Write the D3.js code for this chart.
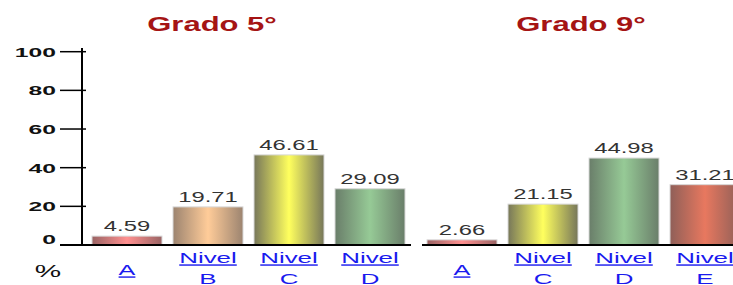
<!DOCTYPE html>
<html>
<head>
<meta charset="utf-8">
<script src="https://cdn.jsdelivr.net/npm/d3@7"></script>
<style>
  body { margin: 0; background: #fff; overflow: hidden; }
  svg { display: block; font-family: Arial, "Liberation Sans", sans-serif; }
</style>
</head>
<body>
<svg id="chart" width="733" height="285"></svg>
<script>
// data
const grado5Levels = ["A", "B", "C", "D"];
const grado5Values = [4.59, 19.71, 46.61, 29.09];
const grado9Levels = ["A", "C", "D", "E"];
const grado9Values = [2.66, 21.15, 44.98, 31.21];
const yTicks = [0, 20, 40, 60, 80, 100];
const titles = ["Grado 5°", "Grado 9°"];

// bar colours per level: [edge, centre]
const levelColors = {
  A: ["#9a6464", "#ff9090"],
  B: ["#9c8470", "#ffcc99"],
  C: ["#77775a", "#ffff5e"],
  D: ["#6a7e6a", "#96ca96"],
  E: ["#8f5f58", "#e8785f"]
};

const svg = d3.select("#chart");
const defs = svg.append("defs");

Object.keys(levelColors).forEach(k => {
  const g = defs.append("linearGradient")
    .attr("id", "grad-" + k)
    .attr("x1", "0%").attr("x2", "100%").attr("y1", "0%").attr("y2", "0%");
  g.append("stop").attr("offset", "0%").attr("stop-color", levelColors[k][0]);
  g.append("stop").attr("offset", "50%").attr("stop-color", levelColors[k][1]);
  g.append("stop").attr("offset", "100%").attr("stop-color", levelColors[k][0]);
});

const y = d3.scaleLinear().domain([0, 100]).range([245, 51.7]);

// stretched text like the original raster
function stretchedText(parent, x, yPos, txt, size, sx, opts) {
  opts = opts || {};
  return parent.append("text")
    .attr("transform", `translate(${x},${yPos}) scale(${sx},1)`)
    .attr("text-anchor", opts.anchor || "middle")
    .attr("font-size", size)
    .attr("font-weight", opts.weight || "normal")
    .attr("fill", opts.fill || "#000")
    .attr("text-decoration", opts.deco || null)
    .text(txt);
}

function drawPanel(levels, values, rangeStart, lineStart, lineEnd, title, titleX) {
  const g = svg.append("g");
  const x = d3.scaleBand()
    .domain(levels)
    .range([rangeStart, rangeStart + levels.length * 81])
    .paddingInner(0.136)
    .paddingOuter(0.068);

  stretchedText(g, titleX, 31, title, 20, 1.55, { weight: "bold", fill: "#a51414" });

  g.selectAll("rect.bar")
    .data(levels)
    .enter()
    .append("rect")
    .attr("class", "bar")
    .attr("x", d => x(d))
    .attr("width", x.bandwidth())
    .attr("y", (d, i) => y(values[i]))
    .attr("height", (d, i) => y(0) - y(values[i]))
    .attr("fill", d => `url(#grad-${d})`)
    .attr("stroke", "#d8d8d8")
    .attr("stroke-width", 1);

  levels.forEach((d, i) => {
    const cx = x(d) + x.bandwidth() / 2;
    stretchedText(g, cx, y(values[i]) - 5, values[i].toFixed(2), 14, 1.7, { fill: "#333" });
    if (d === "A") {
      stretchedText(g, cx, 275, "A", 14, 1.8, { fill: "#1a1aee", deco: "underline" });
    } else {
      stretchedText(g, cx, 263, "Nivel", 14, 1.85, { fill: "#1a1aee", deco: "underline" });
      stretchedText(g, cx, 284, d, 14, 1.85, { fill: "#1a1aee", deco: "underline" });
    }
  });

  g.append("line")
    .attr("x1", lineStart).attr("x2", lineEnd)
    .attr("y1", y(0)).attr("y2", y(0))
    .attr("stroke", "#000").attr("stroke-width", 2);
  return g;
}

// left panel with y axis
const left = drawPanel(grado5Levels, grado5Values, 86.5, 60, 411, titles[0], 212);
const right = drawPanel(grado9Levels, grado9Values, 421.5, 422, 733, titles[1], 581);

const axisG = svg.append("g");
axisG.append("line")
  .attr("x1", 82).attr("x2", 82)
  .attr("y1", 48).attr("y2", y(0))
  .attr("stroke", "#000").attr("stroke-width", 2);

yTicks.forEach(t => {
  if (t > 0) {
    axisG.append("line")
      .attr("x1", 60).attr("x2", 86)
      .attr("y1", y(t)).attr("y2", y(t))
      .attr("stroke", "#000").attr("stroke-width", 1.5);
  }
  stretchedText(axisG, 56, y(t) + 5 - (t === 0 ? 6 : 0), String(t), 13, 1.9, 
    { anchor: "end", weight: "bold", fill: "#111" });
});

stretchedText(svg, 48, 277, "%", 17, 1.75, { fill: "#111" });
</script>
</body>
</html>
